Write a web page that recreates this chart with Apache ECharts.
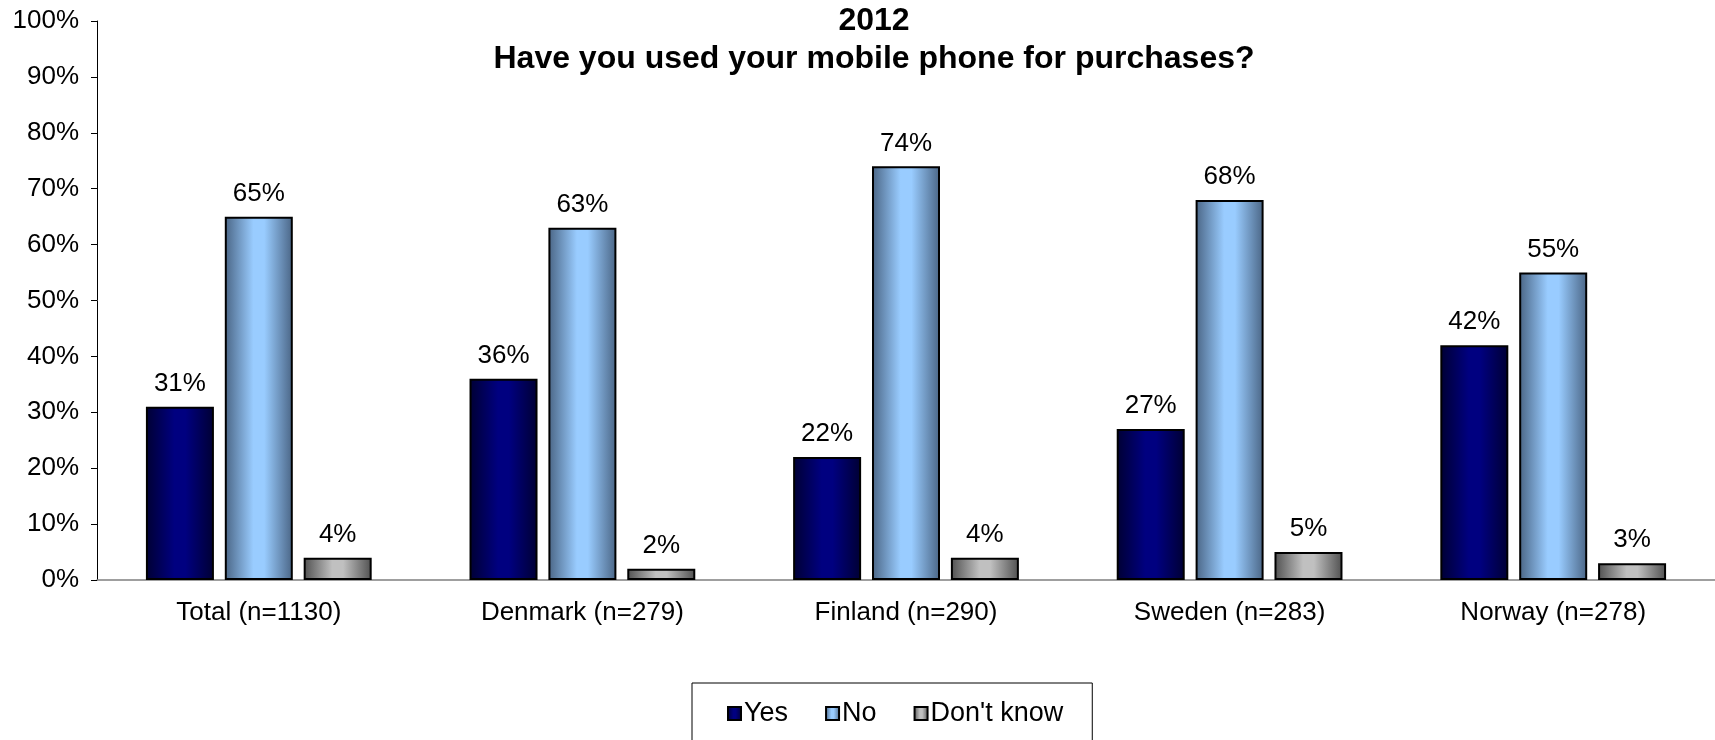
<!DOCTYPE html>
<html>
<head>
<meta charset="utf-8">
<title>2012 – Mobile phone purchases</title>
<script src="https://cdn.jsdelivr.net/npm/echarts@6/dist/echarts.min.js"></script>
<style>
  html, body { margin: 0; padding: 0; background: #fff; }
  #chart { width: 1715px; height: 740px; }
</style>
</head>
<body>
<div id="chart"></div>
<script>
// Survey groups (with sample sizes) shown along the x axis
const categories = ['Total (n=1130)', 'Denmark (n=279)', 'Finland (n=290)', 'Sweden (n=283)', 'Norway (n=278)'];

// Share of respondents per answer, in percent
const yesValues = [31, 36, 22, 27, 42];
const noValues = [65, 63, 74, 68, 55];
const dontKnowValues = [4, 2, 4, 5, 3];

const titleLines = ['2012', 'Have you used your mobile phone for purchases?'];

const FONT = '"Liberation Sans", Arial, sans-serif';

// Cylinder-style horizontal shading: dark edges, lighter middle
function shade(edge, mid) {
  return new echarts.graphic.LinearGradient(0, 0, 1, 0, [
    { offset: 0, color: edge },
    { offset: 0.42, color: mid },
    { offset: 0.58, color: mid },
    { offset: 1, color: edge }
  ]);
}

function barSeries(name, values, edge, mid) {
  return {
    name: name,
    type: 'bar',
    data: values,
    barWidth: 68,
    barGap: '16%',
    itemStyle: { color: shade(edge, mid), borderColor: '#000', borderWidth: 2 },
    label: {
      show: true,
      position: 'top',
      distance: 10,
      formatter: '{c}%',
      color: '#000',
      fontFamily: FONT,
      fontSize: 26
    },
    emphasis: { disabled: true }
  };
}

const chart = echarts.init(document.getElementById('chart'), null, { renderer: 'canvas' });

chart.setOption({
  animation: false,
  backgroundColor: '#fff',
  title: {
    text: titleLines.join('\n'),
    left: 869,
    top: -3,
    textAlign: 'center',
    textStyle: {
      fontFamily: FONT,
      fontWeight: 'bold',
      fontSize: 32,
      lineHeight: 38,
      color: '#000'
    }
  },
  legend: {
    left: 692,
    top: 683,
    orient: 'horizontal',
    icon: 'rect',
    itemWidth: 13,
    itemHeight: 13,
    itemGap: 37,
    padding: [17, 29, 40, 35],
    borderColor: '#000',
    borderWidth: 1,
    textStyle: { fontFamily: FONT, fontSize: 27, color: '#000', padding: [0, 0, 0, -2] },
    data: ['Yes', 'No', "Don't know"]
  },
  grid: { left: 97, right: 0, top: 21, bottom: 160, containLabel: false },
  xAxis: {
    type: 'category',
    data: categories,
    axisLine: { lineStyle: { color: '#808080', width: 1.5 } },
    axisTick: { show: false },
    axisLabel: { color: '#000', fontFamily: FONT, fontSize: 26, margin: 20 }
  },
  yAxis: {
    type: 'value',
    min: 0,
    max: 100,
    interval: 10,
    axisLine: { show: true, lineStyle: { color: '#000', width: 1 } },
    axisTick: { show: true, length: 6, lineStyle: { color: '#000' } },
    splitLine: { show: false },
    axisLabel: { color: '#000', fontFamily: FONT, fontSize: 26, margin: 18, formatter: '{value}%' }
  },
  series: [
    barSeries('Yes', yesValues, '#000033', '#000080'),
    barSeries('No', noValues, '#4a6585', '#99ccff'),
    barSeries("Don't know", dontKnowValues, '#505050', '#c0c0c0')
  ]
});
</script>
</body>
</html>
